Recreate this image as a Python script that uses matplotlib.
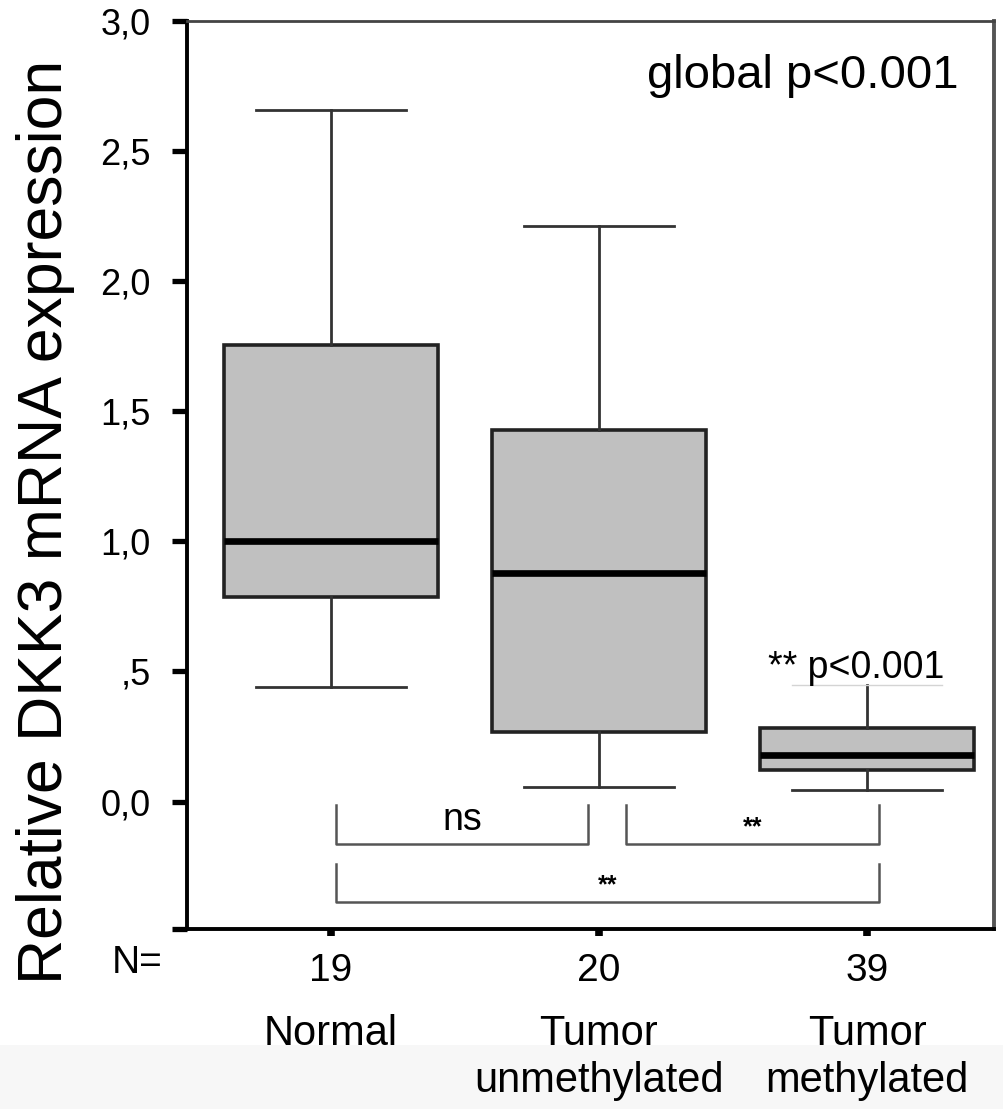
import matplotlib
matplotlib.use("Agg")
import matplotlib.pyplot as plt
import matplotlib.transforms as mtransforms
from matplotlib.patches import Rectangle

# box summary values
groups = ["Normal", "Tumor\nunmethylated", "Tumor\nmethylated"]
n_counts = [19, 20, 39]
whisker_low = [0.442, 0.055, 0.046]
q1 = [0.786, 0.269, 0.123]
median = [1.002, 0.879, 0.180]
q3 = [1.754, 1.428, 0.284]
whisker_high = [2.656, 2.211, 0.449]

yticks = [0.0, 0.5, 1.0, 1.5, 2.0, 2.5, 3.0]
ytick_labels = ["0,0", ",5", "1,0", "1,5", "2,0", "2,5", "3,0"]

# pairwise comparisons: (group a, group b, label)
comparisons = [(0, 1, "ns"), (1, 2, "**"), (0, 2, "**")]
global_p = "global p<0.001"
methylated_p = "** p<0.001"

plt.rcParams["font.family"] = ["Liberation Sans", "DejaVu Sans"]

fig = plt.figure(figsize=(10.04, 11.09), dpi=100)
fig.patches.append(Rectangle((0, 0), 1, 0.058, transform=fig.transFigure,
                             facecolor="#f7f7f7", edgecolor="none", zorder=-5))
ax = fig.add_axes([0.1863, 0.1623, 0.8038, 0.8188])

positions = [1, 2, 3]
stats = []
for i in range(3):
    stats.append(dict(med=median[i], q1=q1[i], q3=q3[i],
                      whislo=whisker_low[i], whishi=whisker_high[i], fliers=[]))

parts = ax.bxp(stats, positions=positions, widths=0.80, patch_artist=True,
               showfliers=False, capwidths=0.56,
               boxprops=dict(facecolor="#c0c0c0", edgecolor="#222222", linewidth=2.6),
               medianprops=dict(color="black", linewidth=4.8, solid_capstyle="butt"),
               whiskerprops=dict(color="#333333", linewidth=2.0),
               capprops=dict(color="#333333", linewidth=2.0))
# the upper cap of the methylated group is only faintly visible
parts["caps"][5].set_color("#d4d4d4")
parts["caps"][5].set_linewidth(1.0)

ax.set_xlim(0.463, 3.474)
ax.set_ylim(-0.49, 3.0)

# significance brackets
row_levels = [(-0.012, -0.165), (-0.012, -0.165), (-0.242, -0.388)]
for (a, b, lab), (ytop, ybot) in zip(comparisons, row_levels):
    xa = positions[a] + 0.02 if a == 0 else positions[a] + 0.10
    xb = positions[b] - 0.04 if b == 1 else positions[b] + 0.045
    ax.plot([xa, xa, xb, xb], [ytop, ybot, ybot, ytop], color="#555555",
            linewidth=1.8, solid_joinstyle="round", clip_on=False)
    if lab == "ns":
        ax.text((xa + xb) / 2, -0.07, lab, ha="center", va="center", fontsize=27)
    else:
        ax.text((xa + xb) / 2, ybot + 0.065, lab, ha="center", va="center",
                fontsize=18, fontweight="bold")

ax.text(3.34, 2.79, global_p, ha="right", va="center", fontsize=34)
ax.text(2.96, 0.515, methylated_p, ha="center", va="center", fontsize=27)

# spines
for side in ["left", "bottom"]:
    ax.spines[side].set_linewidth(2.8)
    ax.spines[side].set_color("black")
ax.spines["top"].set_linewidth(2.0)
ax.spines["top"].set_color("#444444")
ax.spines["right"].set_linewidth(2.8)
ax.spines["right"].set_color("#555555")

ax.set_yticks(yticks + [-0.49])
ax.set_yticklabels(ytick_labels + [""])
ax.tick_params(axis="y", direction="out", length=11, width=3.8, pad=15,
               labelsize=26, colors="black")
ax.set_xticks(positions)
ax.set_xticklabels([str(n) for n in n_counts])
ax.tick_params(axis="x", direction="out", length=5, width=5.5, pad=12,
               labelsize=28)

fig.text(0.137, 1 - 963 / 1109, "N=", ha="center", va="center", fontsize=28)

trans = mtransforms.blended_transform_factory(ax.transData, fig.transFigure)
for pos, name in zip(positions, groups):
    ax.text(pos, 1 - 1014 / 1109, name, transform=trans, ha="center", va="top",
            fontsize=30, linespacing=1.22)

fig.text(0.045, 0.529, "Relative DKK3 mRNA expression", rotation=90,
         ha="center", va="center", fontsize=45)

fig.savefig("out.png", dpi=100)
